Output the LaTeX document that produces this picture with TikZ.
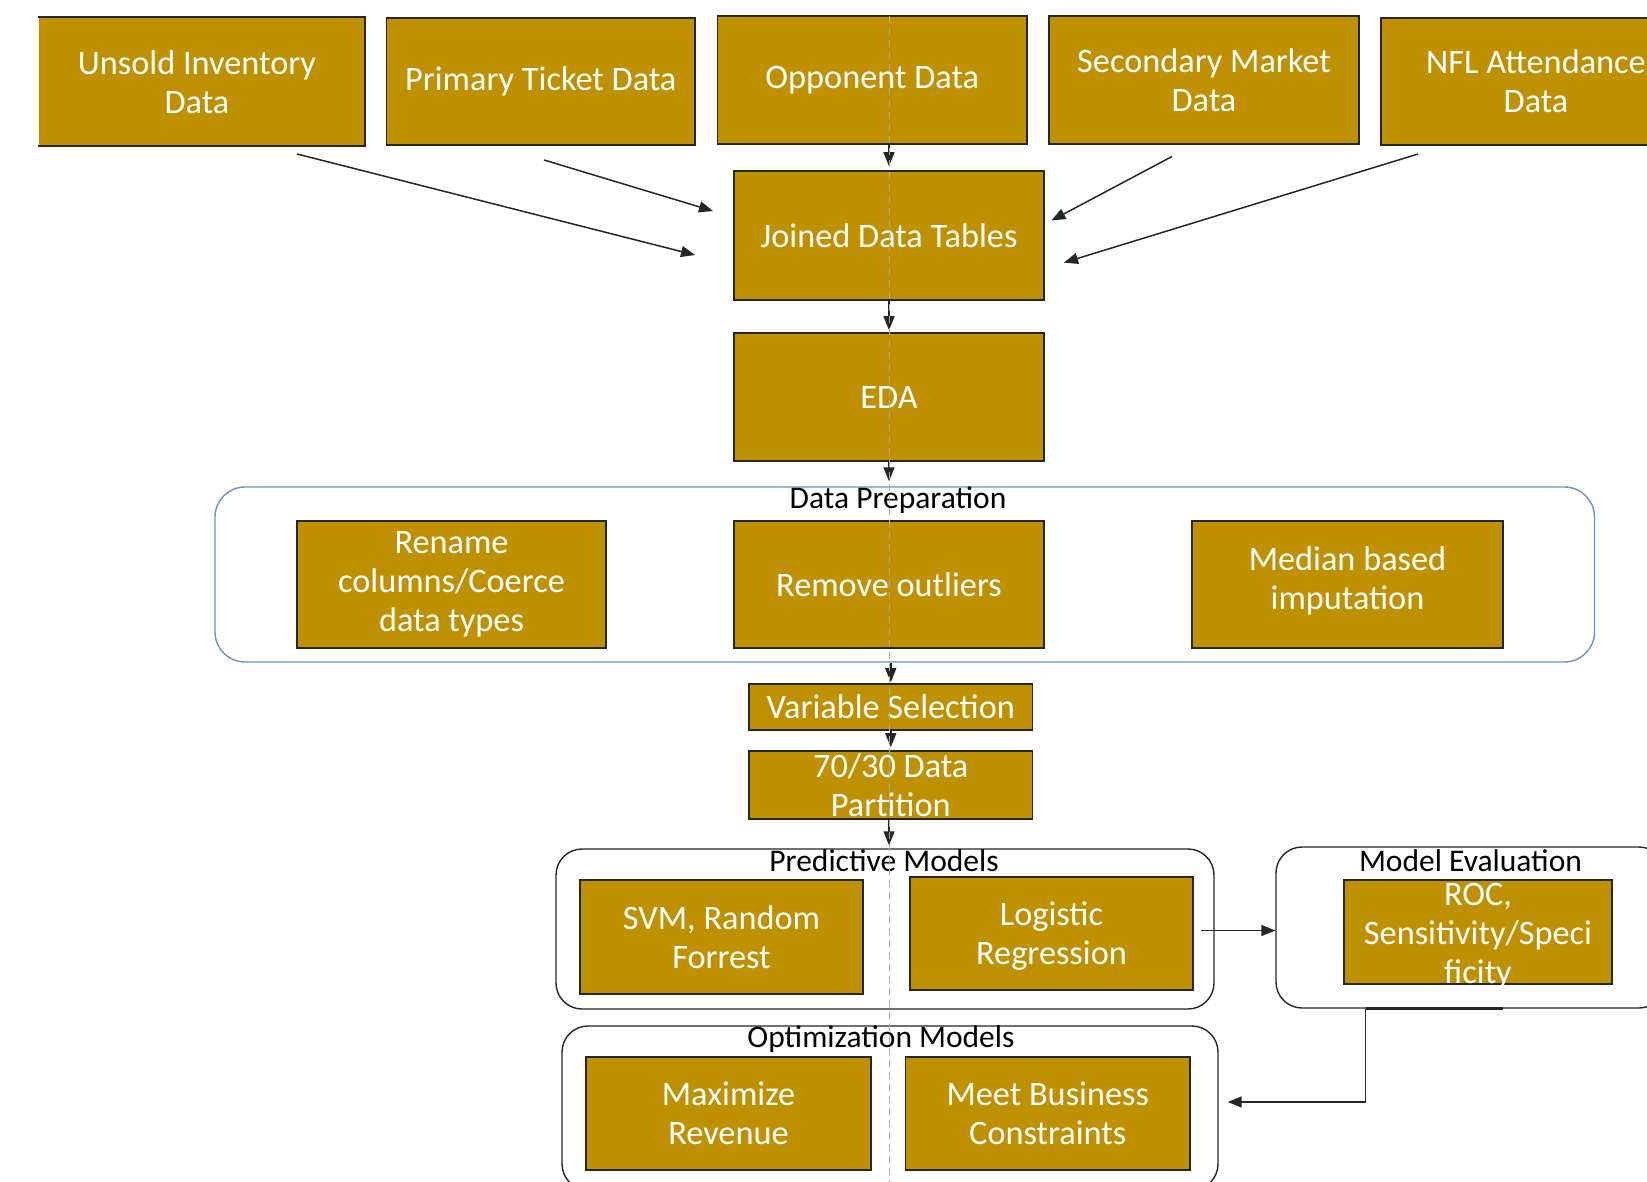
\documentclass[tikz,border=0pt]{standalone}
\usepackage{fontspec}
\setmainfont{Carlito}
\usetikzlibrary{arrows.meta,calc}
\definecolor{gold}{HTML}{BF9000}
\definecolor{prepblue}{RGB}{112,143,196}
\definecolor{edge}{HTML}{262626}
\begin{document}
\begin{tikzpicture}[x=1pt,y=-1pt,
  box/.style={fill=gold, draw=edge, line width=1.6pt, text=white, align=center, inner sep=0pt, font=\fontsize{34.3}{38.8}\selectfont},
  boxtext/.style={text=white, align=center, inner sep=0pt, font=\fontsize{34.3}{38.8}\selectfont},
  grp/.style={draw=edge, line width=1.4pt, rounded corners=26pt, inner sep=0pt},
  lbl/.style={text=black, font=\fontsize{31.5}{36}\selectfont, inner sep=0pt},
  arr/.style={-{Triangle[length=14pt,width=11pt]}, line width=1.5pt, draw=edge},
  guide/.style={draw=gray!65, line width=0.9pt, dash pattern=on 7pt off 5pt},
]
\useasboundingbox (0,0) rectangle (1647,1182);
\clip (0,0) rectangle (1647,1182);
\fill[white] (0,0) rectangle (1647,1182);

% containers
\node[grp, draw=prepblue, rounded corners=30pt, minimum width=1379.5pt, minimum height=175pt] (prep) at (904.75,574.5) {};
\node[grp, minimum width=658pt, minimum height=160pt] (pred) at (885,929) {};
\node[grp, minimum width=389pt, minimum height=161pt] (meval) at (1470.5,927.5) {};
\node[grp, minimum width=656pt, minimum height=164pt] (opt) at (890,1108) {};

% container labels
\node[lbl] (preplbl) at (898,500) {Data Preparation};
\node[lbl] (predlbl) at (884,860.5) {Predictive Models};
\node[lbl] (evallbl) at (1470.5,860.5) {Model Evaluation};
\node[lbl] (optlbl) at (881,1039.5) {Optimization Models};

% top row
\node[box, draw=none, minimum width=325pt, minimum height=127pt] (unsold) at (201.5,81.5) {};
\node[boxtext] (unsoldtxt) at (197,82) {Unsold Inventory\\Data};
\draw[edge, line width=1.6pt] (unsold.north west) -- (unsold.north east) -- (unsold.south east) -- (unsold.south west);
\node[box, minimum width=308.5pt, minimum height=127pt] (primary) at (540.75,81.5) {Primary Ticket Data};
\node[box, minimum width=309.5pt, minimum height=128pt] (opp) at (872.25,80) {Opponent Data};
\node[box, minimum width=310pt, minimum height=128pt] (second) at (1204,80) {Secondary Market\\Data};
\node[box, minimum width=310pt, minimum height=127pt] (nfl) at (1536,81.5) {NFL Attendance\\Data};

\node[box, minimum width=310pt, minimum height=129pt] (joined) at (889,235.5) {Joined Data Tables};
\node[box, minimum width=310pt, minimum height=128pt] (eda) at (889,397) {EDA};

\node[box, minimum width=309pt, minimum height=127pt] (rename) at (451.5,584.5) {Rename\\columns/Coerce\\data types};
\node[box, minimum width=310pt, minimum height=127pt] (remove) at (889,584.5) {Remove outliers};
\node[box, minimum width=311pt, minimum height=127pt] (median) at (1347.5,584.5) {};
\node[boxtext] (mediantxt) at (1347.5,580.5) {Median based\\imputation};

\node[box, minimum width=283.5pt, minimum height=46pt] (vs) at (890.75,707) {Variable Selection};
\node[box, inner ysep=-30pt, minimum width=283.5pt, minimum height=68pt] (part) at (890.75,785) {70/30 Data\\Partition};

\node[box, minimum width=283pt, minimum height=114pt] (svm) at (721.5,937) {SVM, Random\\Forrest};
\node[box, minimum width=283pt, minimum height=113pt] (logit) at (1051.5,933.5) {};
\node[boxtext] (logittxt) at (1051.5,936) {Logistic\\Regression};
\node[box, minimum width=267.5pt, minimum height=104pt] (roc) at (1478,932) {};
\node[boxtext] (roctxt) at (1478,936) {ROC,\\Sensitivity/Speci\\ficity};

\node[box, minimum width=285pt, minimum height=113pt] (maxrev) at (728.5,1113.5) {Maximize\\Revenue};
\node[box, minimum width=284.5pt, minimum height=113pt] (meet) at (1047.75,1113.5) {Meet Business\\Constraints};

% connector end points
\coordinate (a1s) at (297,154);   \coordinate (a1e) at (695,255);
\coordinate (a2s) at (544,160);   \coordinate (a2e) at (713,211);
\coordinate (a4s) at (1172,156.5); \coordinate (a4e) at (1051.5,220.5);
\coordinate (a5s) at (1418,154);  \coordinate (a5e) at (1064,262.6);
\coordinate (elbow) at (1365.5,1102);
\coordinate (pe) at (1201,930.5);

% connectors
\draw[arr] (a1s) -- (a1e);
\draw[arr] (a2s) -- (a2e);
\draw[arr] (opp.south -| joined.north) -- ([yshift=4pt]joined.north);
\draw[arr] (a4s) -- (a4e);
\draw[arr] (a5s) -- (a5e);
\draw[arr] (joined.south) -- ([yshift=2pt]eda.north);
\draw[arr] (eda.south) -- ([yshift=5pt]prep.north -| eda.south);
\draw[arr] (prep.south -| vs.north) -- ([yshift=1pt]vs.north);
\draw[arr] (vs.south) -- ([yshift=3pt]part.north);
\draw[arr] (part.south -| eda.south) -- ([yshift=3pt]pred.north -| eda.south);
\draw[arr] (pe) -- (meval.west |- pe);
\draw[edge, line width=2.6pt] (elbow |- meval.south) -- ++(137.5,0);
\draw[arr] (elbow |- meval.south) -- (elbow) -- ([xshift=9pt]opt.east |- elbow);

% guide line
\draw[guide] (889,16) -- (889,1182);
\end{tikzpicture}
\end{document}
